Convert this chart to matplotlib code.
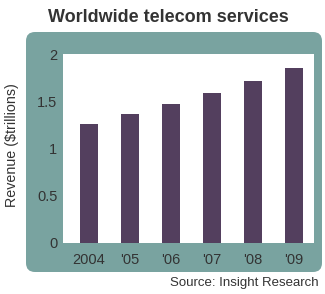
import matplotlib
matplotlib.use("Agg")
import matplotlib.pyplot as plt
from matplotlib.patches import FancyBboxPatch

# dados
anos = ["2004", "'05", "'06", "'07", "'08", "'09"]
receita = [1.26, 1.36, 1.47, 1.59, 1.71, 1.85]
yticks = [0, 0.5, 1, 1.5, 2]
ytick_labels = ["0", "0.5", "1", "1.5", "2"]

TEAL = "#79a3a0"
ROXO = "#533f5e"
TXT = "#333333"
W, H = 325, 294

plt.rcParams["font.family"] = ["Liberation Sans", "DejaVu Sans"]

fig = plt.figure(figsize=(W / 100, H / 100), dpi=100)
fig.patch.set_facecolor("white")

# fundo em coordenadas de pixel
bg = fig.add_axes([0, 0, 1, 1])
bg.set_xlim(0, W)
bg.set_ylim(H, 0)
bg.axis("off")
bg.add_patch(FancyBboxPatch((26, 32), 296, 240, boxstyle="round,pad=0,rounding_size=9",
                            facecolor=TEAL, edgecolor="none"))
bg.text(168, 17, "Worldwide telecom services", ha="center", va="center",
        fontsize=13, fontweight="bold", color=TXT)
bg.text(12, 145, "Revenue ($trillions)", ha="center", va="center", rotation=90,
        fontsize=10.3, color=TXT)
bg.text(319, 283, "Source: Insight Research", ha="right", va="center",
        fontsize=9.5, color=TXT)

# area do grafico
x0, x1, ytop, ybot = 63, 314, 54, 243
ax = fig.add_axes([x0 / W, (H - ybot) / H, (x1 - x0) / W, (ybot - ytop) / H])
ax.set_facecolor("white")
ax.bar(range(len(anos)), receita, width=0.44, color=ROXO)
ax.set_xlim(-0.63, 5.49)
ax.set_ylim(0, 2)
ax.set_yticks(yticks)
ax.set_yticklabels(ytick_labels)
ax.set_xticks(range(len(anos)))
ax.set_xticklabels(anos)
ax.tick_params(length=0, labelsize=10.5, labelcolor=TXT)
ax.tick_params(axis="y", pad=4)
ax.tick_params(axis="x", pad=7)
for s in ax.spines.values():
    s.set_visible(False)

plt.savefig("out.png", dpi=100)
plt.close()
